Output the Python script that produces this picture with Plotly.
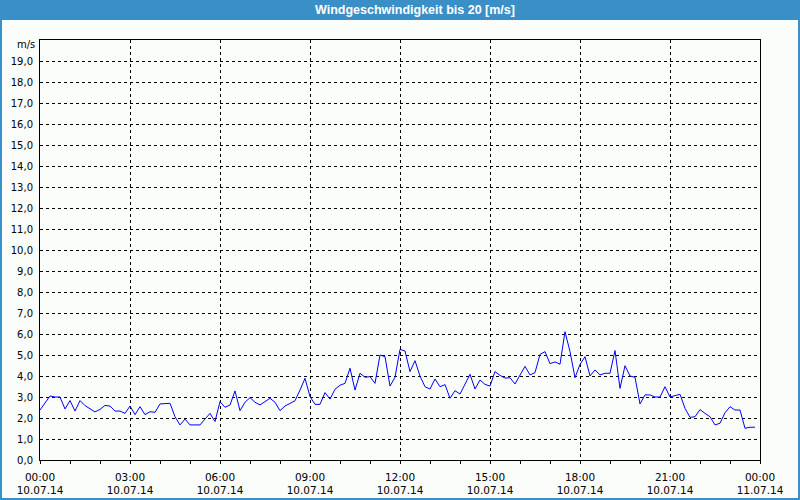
import pandas as pd
import plotly.graph_objects as go

# Wind speed [m/s], 10-minute samples, 10.07.14 00:00 .. 23:50
wind_00_06 = [2.38, 2.70, 3.05, 3.00, 3.00, 2.43, 2.83, 2.33, 2.83, 2.59, 2.46, 2.29,
              2.41, 2.60, 2.57, 2.33, 2.33, 2.22, 2.57, 2.16, 2.54, 2.16, 2.30, 2.27,
              2.67, 2.67, 2.70, 2.06, 1.67, 1.95, 1.67, 1.67, 1.67, 1.95, 2.22, 1.83]
wind_06_12 = [2.78, 2.51, 2.62, 3.29, 2.35, 2.75, 2.97, 2.75, 2.62, 2.78, 2.94, 2.75,
              2.35, 2.57, 2.70, 2.82, 3.33, 3.89, 3.02, 2.65, 2.65, 3.21, 2.90, 3.37,
              3.56, 3.65, 4.37, 3.33, 4.13, 3.94, 3.97, 3.65, 5.00, 4.92, 3.52, 3.94]
wind_12_18 = [5.27, 5.19, 4.21, 4.73, 4.00, 3.49, 3.38, 3.86, 3.49, 3.59, 2.94, 3.30,
              3.14, 3.60, 4.08, 3.38, 3.81, 3.60, 3.52, 4.21, 4.03, 3.90, 3.92, 3.62,
              4.05, 4.46, 4.05, 4.16, 5.03, 5.16, 4.59, 4.67, 4.56, 6.11, 5.16, 3.92]
wind_18_24 = [4.55, 4.92, 4.00, 4.29, 4.05, 4.13, 4.13, 5.21, 3.41, 4.49, 4.00, 3.94,
              2.67, 3.10, 3.10, 3.00, 3.00, 3.49, 3.00, 3.05, 3.13, 2.46, 2.03, 2.06,
              2.40, 2.22, 2.06, 1.67, 1.75, 2.25, 2.54, 2.38, 2.38, 1.51, 1.56, 1.56]
wind = wind_00_06 + wind_06_12 + wind_12_18 + wind_18_24
times = pd.date_range("2014-07-10 00:00", periods=len(wind), freq="10min")

x_tick_vals = pd.date_range("2014-07-10 00:00", "2014-07-11 00:00", freq="3h")
x_tick_text = ["00:00<br>10.07.14", "03:00<br>10.07.14", "06:00<br>10.07.14",
               "09:00<br>10.07.14", "12:00<br>10.07.14", "15:00<br>10.07.14",
               "18:00<br>10.07.14", "21:00<br>10.07.14", "00:00<br>11.07.14"]
y_tick_vals = list(range(0, 20))
y_tick_text = [f"{v},0" for v in y_tick_vals]

title_text = "Windgeschwindigkeit bis 20 [m/s]"
unit_text = "m/s"

BG = "#fbfdfb"
FRAME = "#3b8fc7"
FONT = "DejaVu Sans"

fig = go.Figure()
fig.add_trace(go.Scatter(x=times, y=wind, mode="lines",
                         line=dict(color="#0000ff", width=1),
                         hoverinfo="x+y", showlegend=False))

W, H = 800, 500
L, R, T, B = 40, 40, 40, 40
pw, ph = W - L - R, H - T - B

def px_x(px):
    return (px - L) / pw

def px_y(py):
    return (H - B - py) / ph

fig.update_layout(
    width=W, height=H,
    margin=dict(l=L, r=R, t=T, b=B, pad=0, autoexpand=False),
    paper_bgcolor=BG, plot_bgcolor=BG,
    font=dict(family=FONT, size=10, color="black"),
    xaxis=dict(
        type="date", automargin=False,
        range=["2014-07-10 00:00", "2014-07-11 00:00"],
        tickmode="array", tickvals=x_tick_vals, ticktext=x_tick_text,
        ticks="outside", ticklen=3, tickcolor="black", tickwidth=1,
        ticklabelstandoff=4,
        showgrid=True, gridcolor="black", gridwidth=1, griddash="3px,3px",
        showline=True, linecolor="black", linewidth=1, mirror=True,
        zeroline=False,
        minor=dict(tick0="2014-07-10 00:00", dtick=3600000, ticks="outside",
                   ticklen=3, tickcolor="black", tickwidth=1, showgrid=False),
        tickfont=dict(family=FONT, size=10.5, color="black"),
        fixedrange=True,
    ),
    yaxis=dict(
        range=[0, 20], automargin=False,
        tickmode="array", tickvals=y_tick_vals, ticktext=y_tick_text,
        ticks="", ticklabelstandoff=4,
        showgrid=True, gridcolor="black", gridwidth=1, griddash="3px,3px",
        showline=True, linecolor="black", linewidth=1, mirror=True,
        zeroline=False,
        tickfont=dict(family=FONT, size=10, color="black"),
        fixedrange=True,
    ),
    shapes=[
        # title bar
        dict(type="rect", xref="paper", yref="paper", layer="above",
             x0=px_x(0), x1=px_x(W), y0=px_y(20), y1=px_y(0),
             fillcolor=FRAME, line=dict(width=0)),
        # window frame
        dict(type="rect", xref="paper", yref="paper", layer="above",
             x0=px_x(0), x1=px_x(2), y0=px_y(H), y1=px_y(0),
             fillcolor=FRAME, line=dict(width=0)),
        dict(type="rect", xref="paper", yref="paper", layer="above",
             x0=px_x(W - 2), x1=px_x(W), y0=px_y(H), y1=px_y(0),
             fillcolor=FRAME, line=dict(width=0)),
        dict(type="rect", xref="paper", yref="paper", layer="above",
             x0=px_x(0), x1=px_x(W), y0=px_y(H), y1=px_y(H - 2),
             fillcolor=FRAME, line=dict(width=0)),
    ],
    annotations=[
        dict(text=f"<b>{title_text}</b>", xref="paper", yref="paper",
             x=px_x(415), y=px_y(10), xanchor="center", yanchor="middle",
             showarrow=False,
             font=dict(family="Liberation Sans", size=12.5, color="white")),
        dict(text=unit_text, xref="paper", yref="paper",
             x=px_x(37), y=px_y(45), xanchor="right", yanchor="middle",
             showarrow=False, font=dict(family=FONT, size=10, color="black")),
    ],
)

fig.write_html("out.html")
